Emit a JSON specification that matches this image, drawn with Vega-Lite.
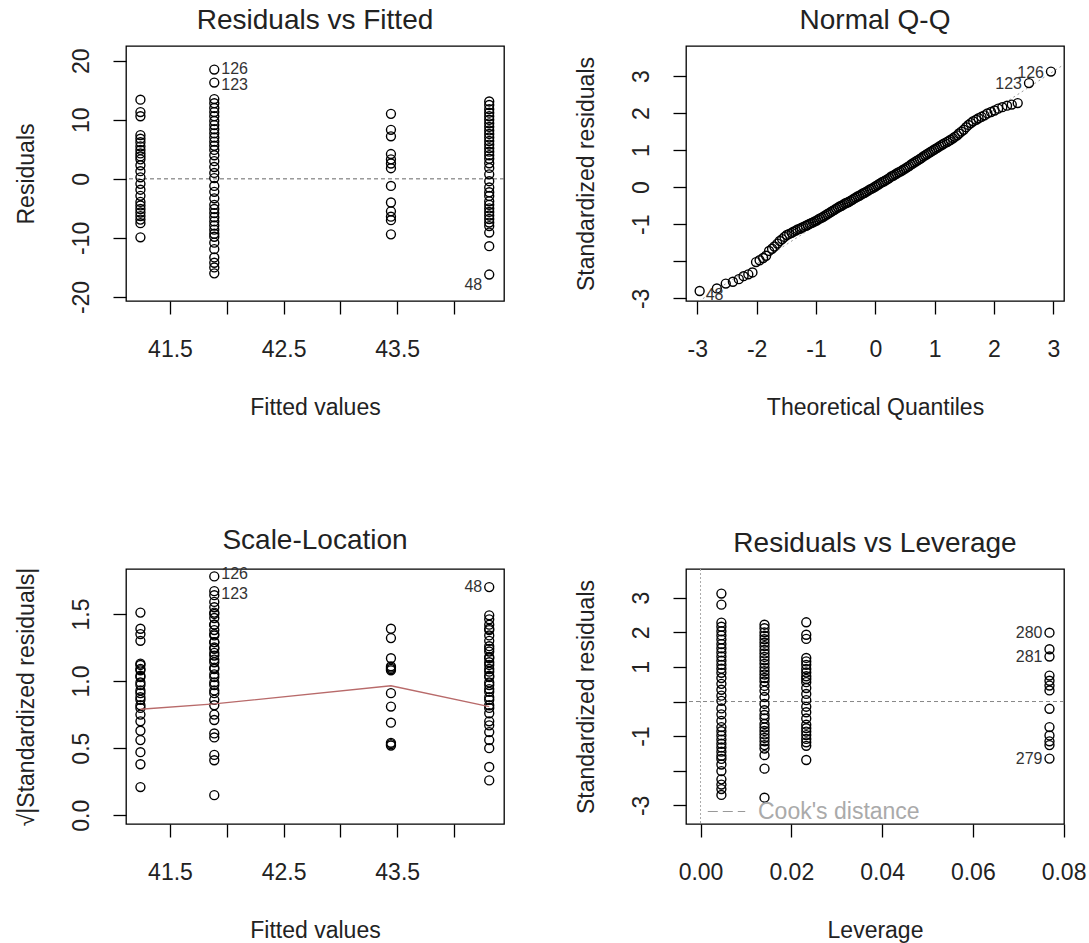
{
  "$schema": "https://vega.github.io/schema/vega-lite/v6.json",
  "background": "white",
  "autosize": {"type": "none"},
  "padding": {"left": 126, "top": 46, "right": 963, "bottom": 897},
  "bounds": "flush",
  "columns": 2,
  "spacing": {"row": 268, "column": 182},
  "resolve": {"legend": {"strokeDash": "independent"}},
  "config": {
    "font": "Liberation Sans",
    "view": {"stroke": "#000", "strokeWidth": 1.3},
    "axis": {"domain": false, "grid": false, "ticks": true, "tickColor": "#000", "tickWidth": 1.3, "tickSize": 13,
      "labelFontSize": 23, "labelColor": "#222", "titleFontSize": 23, "titleFontWeight": "normal", "titleColor": "#222",
      "labelOverlap": false, "labelFlush": false, "labelBound": false},
    "axisX": {"labelPadding": 24, "labelBaseline": "top", "labelAngle": 0, "titleBaseline": "alphabetic", "titleY": 113},
    "axisY": {"labelAngle": -90, "labelAlign": "center", "labelBaseline": "bottom", "labelPadding": 20, "titleX": -100, "titleBaseline": "middle", "titleAngle": -90},
    "title": {"fontSize": 28, "fontWeight": "normal", "color": "#222", "baseline": "alphabetic", "offset": 11, "anchor": "middle"},
    "legend": {"title": null}
  },
  "datasets": {
    "obs": [
      {"g":"A","fit":41.24,"lev":0.0233,"r":13.4,"sd":2.29,"sr":1.51},
      {"g":"A","fit":41.24,"lev":0.0233,"r":11.3,"sd":1.93,"sr":1.39},
      {"g":"A","fit":41.24,"lev":0.0233,"r":10.6,"sd":1.81,"sr":1.35},
      {"g":"A","fit":41.24,"lev":0.0233,"r":7.4,"sd":1.26,"sr":1.12},
      {"g":"A","fit":41.24,"lev":0.0233,"r":6.8,"sd":1.16,"sr":1.08},
      {"g":"A","fit":41.24,"lev":0.0233,"r":6.2,"sd":1.06,"sr":1.03},
      {"g":"A","fit":41.24,"lev":0.0233,"r":5.5,"sd":0.94,"sr":0.97},
      {"g":"A","fit":41.24,"lev":0.0233,"r":4.9,"sd":0.84,"sr":0.91},
      {"g":"A","fit":41.24,"lev":0.0233,"r":4.3,"sd":0.73,"sr":0.86},
      {"g":"A","fit":41.24,"lev":0.0233,"r":3.8,"sd":0.65,"sr":0.80},
      {"g":"A","fit":41.24,"lev":0.0233,"r":3.3,"sd":0.56,"sr":0.75},
      {"g":"A","fit":41.24,"lev":0.0233,"r":2.3,"sd":0.39,"sr":0.63},
      {"g":"A","fit":41.24,"lev":0.0233,"r":1.3,"sd":0.22,"sr":0.47},
      {"g":"A","fit":41.24,"lev":0.0233,"r":0.26,"sd":0.04,"sr":0.21},
      {"g":"A","fit":41.24,"lev":0.0233,"r":-0.85,"sd":-0.15,"sr":0.38},
      {"g":"A","fit":41.24,"lev":0.0233,"r":-1.84,"sd":-0.31,"sr":0.56},
      {"g":"A","fit":41.24,"lev":0.0233,"r":-2.87,"sd":-0.49,"sr":0.70},
      {"g":"A","fit":41.24,"lev":0.0233,"r":-3.9,"sd":-0.67,"sr":0.82},
      {"g":"A","fit":41.24,"lev":0.0233,"r":-4.5,"sd":-0.77,"sr":0.88},
      {"g":"A","fit":41.24,"lev":0.0233,"r":-5.1,"sd":-0.87,"sr":0.93},
      {"g":"A","fit":41.24,"lev":0.0233,"r":-5.7,"sd":-0.97,"sr":0.99},
      {"g":"A","fit":41.24,"lev":0.0233,"r":-6.3,"sd":-1.08,"sr":1.04},
      {"g":"A","fit":41.24,"lev":0.0233,"r":-6.9,"sd":-1.18,"sr":1.09},
      {"g":"A","fit":41.24,"lev":0.0233,"r":-7.5,"sd":-1.28,"sr":1.13},
      {"g":"A","fit":41.24,"lev":0.0233,"r":-9.9,"sd":-1.69,"sr":1.30},
      {"g":"B","fit":41.89,"lev":0.0046,"r":18.5,"sd":3.12,"sr":1.78,"lab":"126"},
      {"g":"B","fit":41.89,"lev":0.0046,"r":16.3,"sd":2.80,"sr":1.67,"lab":"123"},
      {"g":"B","fit":41.89,"lev":0.0046,"r":13.5,"sd":2.28,"sr":1.51},
      {"g":"B","fit":41.89,"lev":0.0046,"r":12.8,"sd":2.16,"sr":1.47},
      {"g":"B","fit":41.89,"lev":0.0046,"r":12.0,"sd":2.03,"sr":1.42},
      {"g":"B","fit":41.89,"lev":0.0046,"r":11.3,"sd":1.91,"sr":1.38},
      {"g":"B","fit":41.89,"lev":0.0046,"r":10.6,"sd":1.79,"sr":1.34},
      {"g":"B","fit":41.89,"lev":0.0046,"r":9.8,"sd":1.66,"sr":1.29},
      {"g":"B","fit":41.89,"lev":0.0046,"r":9.1,"sd":1.54,"sr":1.24},
      {"g":"B","fit":41.89,"lev":0.0046,"r":8.4,"sd":1.42,"sr":1.19},
      {"g":"B","fit":41.89,"lev":0.0046,"r":7.7,"sd":1.30,"sr":1.14},
      {"g":"B","fit":41.89,"lev":0.0046,"r":7.0,"sd":1.18,"sr":1.09},
      {"g":"B","fit":41.89,"lev":0.0046,"r":6.3,"sd":1.06,"sr":1.03},
      {"g":"B","fit":41.89,"lev":0.0046,"r":5.6,"sd":0.95,"sr":0.97},
      {"g":"B","fit":41.89,"lev":0.0046,"r":4.9,"sd":0.83,"sr":0.91},
      {"g":"B","fit":41.89,"lev":0.0046,"r":4.0,"sd":0.68,"sr":0.82},
      {"g":"B","fit":41.89,"lev":0.0046,"r":3.0,"sd":0.51,"sr":0.71},
      {"g":"B","fit":41.89,"lev":0.0046,"r":2.0,"sd":0.34,"sr":0.58},
      {"g":"B","fit":41.89,"lev":0.0046,"r":1.0,"sd":0.17,"sr":0.41},
      {"g":"B","fit":41.89,"lev":0.0046,"r":0.13,"sd":0.02,"sr":0.15},
      {"g":"B","fit":41.89,"lev":0.0046,"r":-1.2,"sd":-0.20,"sr":0.45},
      {"g":"B","fit":41.89,"lev":0.0046,"r":-2.2,"sd":-0.37,"sr":0.61},
      {"g":"B","fit":41.89,"lev":0.0046,"r":-3.3,"sd":-0.56,"sr":0.75},
      {"g":"B","fit":41.89,"lev":0.0046,"r":-4.4,"sd":-0.74,"sr":0.86},
      {"g":"B","fit":41.89,"lev":0.0046,"r":-5.1,"sd":-0.86,"sr":0.93},
      {"g":"B","fit":41.89,"lev":0.0046,"r":-5.8,"sd":-0.98,"sr":0.99},
      {"g":"B","fit":41.89,"lev":0.0046,"r":-6.5,"sd":-1.10,"sr":1.05},
      {"g":"B","fit":41.89,"lev":0.0046,"r":-7.2,"sd":-1.22,"sr":1.10},
      {"g":"B","fit":41.89,"lev":0.0046,"r":-7.9,"sd":-1.33,"sr":1.16},
      {"g":"B","fit":41.89,"lev":0.0046,"r":-8.6,"sd":-1.45,"sr":1.21},
      {"g":"B","fit":41.89,"lev":0.0046,"r":-9.3,"sd":-1.57,"sr":1.25},
      {"g":"B","fit":41.89,"lev":0.0046,"r":-9.8,"sd":-1.66,"sr":1.29},
      {"g":"B","fit":41.89,"lev":0.0046,"r":-10.8,"sd":-1.82,"sr":1.35},
      {"g":"B","fit":41.89,"lev":0.0046,"r":-11.9,"sd":-2.01,"sr":1.42},
      {"g":"B","fit":41.89,"lev":0.0046,"r":-13.3,"sd":-2.25,"sr":1.50},
      {"g":"B","fit":41.89,"lev":0.0046,"r":-14.2,"sd":-2.40,"sr":1.55},
      {"g":"B","fit":41.89,"lev":0.0046,"r":-15.0,"sd":-2.53,"sr":1.59},
      {"g":"B","fit":41.89,"lev":0.0046,"r":-16.0,"sd":-2.70,"sr":1.64},
      {"g":"C","fit":43.445,"lev":0.0769,"r":11.0,"sd":1.99,"sr":1.39,"lab":"280"},
      {"g":"C","fit":43.445,"lev":0.0769,"r":8.3,"sd":1.51,"sr":1.17},
      {"g":"C","fit":43.445,"lev":0.0769,"r":7.2,"sd":1.30,"sr":1.11,"lab":"281"},
      {"g":"C","fit":43.445,"lev":0.0769,"r":4.2,"sd":0.75,"sr":0.81},
      {"g":"C","fit":43.445,"lev":0.0769,"r":3.3,"sd":0.60,"sr":0.69},
      {"g":"C","fit":43.445,"lev":0.0769,"r":2.6,"sd":0.46,"sr":0.54},
      {"g":"C","fit":43.445,"lev":0.0769,"r":1.8,"sd":0.32,"sr":0.53},
      {"g":"C","fit":43.445,"lev":0.0769,"r":-1.2,"sd":-0.21,"sr":0.52},
      {"g":"C","fit":43.445,"lev":0.0769,"r":-4.0,"sd":-0.74,"sr":0.91},
      {"g":"C","fit":43.445,"lev":0.0769,"r":-5.5,"sd":-0.98,"sr":1.09},
      {"g":"C","fit":43.445,"lev":0.0769,"r":-6.4,"sd":-1.15,"sr":1.10},
      {"g":"C","fit":43.445,"lev":0.0769,"r":-7.0,"sd":-1.26,"sr":1.08},
      {"g":"C","fit":43.445,"lev":0.0769,"r":-9.4,"sd":-1.65,"sr":1.32,"lab":"279"},
      {"g":"D","fit":44.31,"lev":0.0141,"r":13.1,"sd":2.22,"sr":1.49},
      {"g":"D","fit":44.31,"lev":0.0141,"r":12.5,"sd":2.12,"sr":1.46},
      {"g":"D","fit":44.31,"lev":0.0141,"r":11.8,"sd":2.00,"sr":1.42},
      {"g":"D","fit":44.31,"lev":0.0141,"r":11.2,"sd":1.90,"sr":1.38},
      {"g":"D","fit":44.31,"lev":0.0141,"r":10.6,"sd":1.80,"sr":1.34},
      {"g":"D","fit":44.31,"lev":0.0141,"r":10.0,"sd":1.70,"sr":1.30},
      {"g":"D","fit":44.31,"lev":0.0141,"r":9.4,"sd":1.60,"sr":1.26},
      {"g":"D","fit":44.31,"lev":0.0141,"r":8.8,"sd":1.49,"sr":1.22},
      {"g":"D","fit":44.31,"lev":0.0141,"r":8.2,"sd":1.39,"sr":1.18},
      {"g":"D","fit":44.31,"lev":0.0141,"r":7.6,"sd":1.29,"sr":1.14},
      {"g":"D","fit":44.31,"lev":0.0141,"r":7.0,"sd":1.19,"sr":1.09},
      {"g":"D","fit":44.31,"lev":0.0141,"r":6.4,"sd":1.09,"sr":1.04},
      {"g":"D","fit":44.31,"lev":0.0141,"r":5.8,"sd":0.98,"sr":0.99},
      {"g":"D","fit":44.31,"lev":0.0141,"r":5.2,"sd":0.88,"sr":0.94},
      {"g":"D","fit":44.31,"lev":0.0141,"r":4.6,"sd":0.78,"sr":0.88},
      {"g":"D","fit":44.31,"lev":0.0141,"r":4.0,"sd":0.68,"sr":0.82},
      {"g":"D","fit":44.31,"lev":0.0141,"r":3.4,"sd":0.58,"sr":0.76},
      {"g":"D","fit":44.31,"lev":0.0141,"r":2.64,"sd":0.45,"sr":0.67},
      {"g":"D","fit":44.31,"lev":0.0141,"r":1.85,"sd":0.31,"sr":0.56},
      {"g":"D","fit":44.31,"lev":0.0141,"r":0.76,"sd":0.13,"sr":0.36},
      {"g":"D","fit":44.31,"lev":0.0141,"r":-0.4,"sd":-0.07,"sr":0.26},
      {"g":"D","fit":44.31,"lev":0.0141,"r":-1.47,"sd":-0.25,"sr":0.50},
      {"g":"D","fit":44.31,"lev":0.0141,"r":-2.27,"sd":-0.39,"sr":0.62},
      {"g":"D","fit":44.31,"lev":0.0141,"r":-2.9,"sd":-0.49,"sr":0.70},
      {"g":"D","fit":44.31,"lev":0.0141,"r":-3.8,"sd":-0.65,"sr":0.80},
      {"g":"D","fit":44.31,"lev":0.0141,"r":-4.4,"sd":-0.75,"sr":0.86},
      {"g":"D","fit":44.31,"lev":0.0141,"r":-5.0,"sd":-0.85,"sr":0.92},
      {"g":"D","fit":44.31,"lev":0.0141,"r":-5.6,"sd":-0.95,"sr":0.97},
      {"g":"D","fit":44.31,"lev":0.0141,"r":-6.2,"sd":-1.05,"sr":1.03},
      {"g":"D","fit":44.31,"lev":0.0141,"r":-6.8,"sd":-1.15,"sr":1.07},
      {"g":"D","fit":44.31,"lev":0.0141,"r":-7.4,"sd":-1.26,"sr":1.12},
      {"g":"D","fit":44.31,"lev":0.0141,"r":-8.0,"sd":-1.36,"sr":1.17},
      {"g":"D","fit":44.31,"lev":0.0141,"r":-9.1,"sd":-1.55,"sr":1.24},
      {"g":"D","fit":44.31,"lev":0.0141,"r":-11.4,"sd":-1.94,"sr":1.39},
      {"g":"D","fit":44.31,"lev":0.0141,"r":-16.2,"sd":-2.78,"sr":1.70,"lab":"48"}
    ],
    "qq": [
      {"q":-2.96,"s":-2.80,"lab":"48"},{"q":-2.67,"s":-2.73},{"q":-2.52,"s":-2.60},{"q":-2.40,"s":-2.55},
      {"q":-2.30,"s":-2.48},{"q":-2.22,"s":-2.40},{"q":-2.14,"s":-2.35},{"q":-2.07,"s":-2.30},
      {"q":-2.01,"s":-2.02},{"q":-1.95,"s":-1.97},{"q":-1.89,"s":-1.91},{"q":-1.84,"s":-1.85},
      {"q":-1.79,"s":-1.72},{"q":-1.74,"s":-1.66},{"q":-1.70,"s":-1.60},{"q":-1.65,"s":-1.52},
      {"q":-1.61,"s":-1.45},{"q":-1.57,"s":-1.40},{"q":-1.53,"s":-1.34},{"q":-1.49,"s":-1.29},
      {"q":-1.45,"s":-1.26},{"q":-1.41,"s":-1.23},{"q":-1.38,"s":-1.20},{"q":-1.34,"s":-1.17},
      {"q":-1.31,"s":-1.14},{"q":-1.27,"s":-1.12},{"q":-1.24,"s":-1.09},{"q":-1.21,"s":-1.07},
      {"q":-1.17,"s":-1.04},{"q":-1.14,"s":-1.02},{"q":-1.11,"s":-0.99},{"q":-1.08,"s":-0.97},
      {"q":-1.05,"s":-0.95},{"q":-1.02,"s":-0.92},{"q":-0.99,"s":-0.90},{"q":-0.96,"s":-0.87},
      {"q":-0.93,"s":-0.84},{"q":-0.90,"s":-0.82},{"q":-0.87,"s":-0.79},{"q":-0.84,"s":-0.76},
      {"q":-0.81,"s":-0.73},{"q":-0.78,"s":-0.70},{"q":-0.75,"s":-0.67},{"q":-0.72,"s":-0.64},
      {"q":-0.69,"s":-0.61},{"q":-0.66,"s":-0.58},{"q":-0.63,"s":-0.55},{"q":-0.60,"s":-0.52},
      {"q":-0.57,"s":-0.50},{"q":-0.54,"s":-0.47},{"q":-0.51,"s":-0.44},{"q":-0.48,"s":-0.42},
      {"q":-0.45,"s":-0.40},{"q":-0.42,"s":-0.37},{"q":-0.39,"s":-0.34},{"q":-0.36,"s":-0.31},
      {"q":-0.33,"s":-0.28},{"q":-0.30,"s":-0.25},{"q":-0.27,"s":-0.23},{"q":-0.24,"s":-0.20},
      {"q":-0.21,"s":-0.17},{"q":-0.18,"s":-0.15},{"q":-0.15,"s":-0.12},{"q":-0.12,"s":-0.09},
      {"q":-0.09,"s":-0.06},{"q":-0.06,"s":-0.04},{"q":-0.03,"s":-0.01},{"q":0.0,"s":0.02},
      {"q":0.03,"s":0.05},{"q":0.06,"s":0.08},{"q":0.09,"s":0.11},{"q":0.12,"s":0.14},
      {"q":0.15,"s":0.16},{"q":0.18,"s":0.19},{"q":0.21,"s":0.22},{"q":0.24,"s":0.25},
      {"q":0.27,"s":0.29},{"q":0.30,"s":0.31},{"q":0.33,"s":0.34},{"q":0.36,"s":0.37},
      {"q":0.39,"s":0.40},{"q":0.42,"s":0.42},{"q":0.45,"s":0.45},{"q":0.48,"s":0.48},
      {"q":0.51,"s":0.51},{"q":0.54,"s":0.54},{"q":0.57,"s":0.57},{"q":0.60,"s":0.61},
      {"q":0.63,"s":0.64},{"q":0.66,"s":0.67},{"q":0.69,"s":0.70},{"q":0.72,"s":0.73},
      {"q":0.75,"s":0.76},{"q":0.78,"s":0.79},{"q":0.81,"s":0.83},{"q":0.84,"s":0.86},
      {"q":0.87,"s":0.89},{"q":0.90,"s":0.92},{"q":0.93,"s":0.95},{"q":0.96,"s":0.98},
      {"q":0.99,"s":1.01},{"q":1.02,"s":1.04},{"q":1.05,"s":1.07},{"q":1.08,"s":1.10},
      {"q":1.11,"s":1.13},{"q":1.14,"s":1.16},{"q":1.17,"s":1.19},{"q":1.21,"s":1.22},
      {"q":1.24,"s":1.25},{"q":1.27,"s":1.28},{"q":1.31,"s":1.32},{"q":1.34,"s":1.36},
      {"q":1.38,"s":1.40},{"q":1.41,"s":1.45},{"q":1.45,"s":1.50},{"q":1.49,"s":1.55},
      {"q":1.53,"s":1.62},{"q":1.57,"s":1.68},{"q":1.61,"s":1.73},{"q":1.65,"s":1.78},
      {"q":1.70,"s":1.82},{"q":1.74,"s":1.86},{"q":1.79,"s":1.90},{"q":1.84,"s":1.94},
      {"q":1.89,"s":1.99},{"q":1.95,"s":2.03},{"q":2.01,"s":2.07},{"q":2.07,"s":2.12},
      {"q":2.14,"s":2.16},{"q":2.22,"s":2.20},{"q":2.30,"s":2.23},{"q":2.40,"s":2.27},
      {"q":2.59,"s":2.81,"lab":"123"},{"q":2.96,"s":3.12,"lab":"126"}
    ],
    "qqline": [{"q":-3.4,"s":-3.52},{"q":3.4,"s":3.54}],
    "smooth": [{"fit":41.24,"v":0.79},{"fit":41.89,"v":0.83},{"fit":43.445,"v":0.965},{"fit":44.31,"v":0.81}],
    "cook": [
      {"h":0.02,"c":9.9,"b":"up","kind":"Cook's distance"},{"h":0.04,"c":6.93,"b":"up","kind":"Cook's distance"},
      {"h":0.06,"c":5.6,"b":"up","kind":"Cook's distance"},{"h":0.08,"c":4.8,"b":"up","kind":"Cook's distance"},
      {"h":0.02,"c":-9.9,"b":"lo","kind":"Cook's distance"},{"h":0.04,"c":-6.93,"b":"lo","kind":"Cook's distance"},
      {"h":0.06,"c":-5.6,"b":"lo","kind":"Cook's distance"},{"h":0.08,"c":-4.8,"b":"lo","kind":"Cook's distance"}
    ]
  },
  "concat": [
    {
      "width": 378, "height": 255,
      "title": {"text": "Residuals vs Fitted"},
      "data": {"name": "obs"},
      "layer": [
        {"data": {"values": [{}]}, "mark": {"type": "rule", "color": "#666", "strokeDash": [4, 3], "strokeWidth": 1},
         "encoding": {"y": {"datum": 0, "type": "quantitative"}}},
        {"mark": {"type": "point", "shape": "circle", "filled": false, "stroke": "#000", "strokeWidth": 1.4, "size": 80, "opacity": 1},
         "encoding": {
           "x": {"field": "fit", "type": "quantitative", "scale": {"domain": [41.113, 44.44], "nice": false, "zero": false},
                 "axis": {"title": "Fitted values", "values": [41.5, 42, 42.5, 43, 43.5, 44], "labelExpr": "datum.value == 41.5 || datum.value == 42.5 || datum.value == 43.5 ? datum.label : ''"}},
           "y": {"field": "r", "type": "quantitative", "scale": {"domain": [-20.68, 22.49], "nice": false, "zero": false},
                 "axis": {"title": "Residuals", "values": [-20, -10, 0, 10, 20], "labelExpr": "replace(datum.label, '\u2212', '-')"}}
         }},
        {"transform": [{"filter": "datum.lab == '126'"}],
         "mark": {"type": "text", "align": "left", "baseline": "middle", "dx": 7, "dy": -1, "fontSize": 16, "color": "#333"},
         "encoding": {"x": {"field": "fit", "type": "quantitative"}, "y": {"field": "r", "type": "quantitative"}, "text": {"field": "lab"}}},
        {"transform": [{"filter": "datum.lab == '123'"}],
         "mark": {"type": "text", "align": "left", "baseline": "middle", "dx": 7, "dy": 2, "fontSize": 16, "color": "#333"},
         "encoding": {"x": {"field": "fit", "type": "quantitative"}, "y": {"field": "r", "type": "quantitative"}, "text": {"field": "lab"}}},
        {"transform": [{"filter": "isValid(datum.lab) && datum.g == 'D'"}],
         "mark": {"type": "text", "align": "right", "baseline": "middle", "dx": -7, "dy": 10, "fontSize": 16, "color": "#333"},
         "encoding": {"x": {"field": "fit", "type": "quantitative"}, "y": {"field": "r", "type": "quantitative"}, "text": {"field": "lab"}}}
      ]
    },
    {
      "width": 378, "height": 255,
      "title": {"text": "Normal Q-Q"},
      "layer": [
        {"data": {"name": "qqline"}, "mark": {"type": "line", "color": "#999", "strokeDash": [2, 3], "strokeWidth": 1, "clip": true},
         "encoding": {"x": {"field": "q", "type": "quantitative"}, "y": {"field": "s", "type": "quantitative"}}},
        {"data": {"name": "qq"},
         "mark": {"type": "point", "shape": "circle", "filled": false, "stroke": "#000", "strokeWidth": 1.4, "size": 80, "opacity": 1},
         "encoding": {
           "x": {"field": "q", "type": "quantitative", "scale": {"domain": [-3.19, 3.18], "nice": false, "zero": false},
                 "axis": {"title": "Theoretical Quantiles", "values": [-3, -2, -1, 0, 1, 2, 3], "format": "d", "labelExpr": "replace(datum.label, '\u2212', '-')"}},
           "y": {"field": "s", "type": "quantitative", "scale": {"domain": [-3.07, 3.81], "nice": false, "zero": false},
                 "axis": {"title": "Standardized residuals", "values": [-3, -2, -1, 0, 1, 2, 3], "format": "d", "labelExpr": "datum.value == -2 ? '' : replace(datum.label, '\u2212', '-')"}}
         }},
        {"data": {"name": "qq"}, "transform": [{"filter": "isValid(datum.lab) && datum.q > 0"}],
         "mark": {"type": "text", "align": "right", "baseline": "middle", "dx": -7, "dy": 1, "fontSize": 16, "color": "#333"},
         "encoding": {"x": {"field": "q", "type": "quantitative"}, "y": {"field": "s", "type": "quantitative"}, "text": {"field": "lab"}}},
        {"data": {"name": "qq"}, "transform": [{"filter": "isValid(datum.lab) && datum.q < 0"}],
         "mark": {"type": "text", "align": "left", "baseline": "middle", "dx": 6, "dy": 4, "fontSize": 16, "color": "#333"},
         "encoding": {"x": {"field": "q", "type": "quantitative"}, "y": {"field": "s", "type": "quantitative"}, "text": {"field": "lab"}}}
      ]
    },
    {
      "width": 378, "height": 255,
      "title": {"text": "Scale-Location"},
      "layer": [
        {"data": {"name": "obs"},
         "mark": {"type": "point", "shape": "circle", "filled": false, "stroke": "#000", "strokeWidth": 1.4, "size": 80, "opacity": 1},
         "encoding": {
           "x": {"field": "fit", "type": "quantitative", "scale": {"domain": [41.113, 44.44], "nice": false, "zero": false},
                 "axis": {"title": "Fitted values", "values": [41.5, 42, 42.5, 43, 43.5, 44], "labelExpr": "datum.value == 41.5 || datum.value == 42.5 || datum.value == 43.5 ? datum.label : ''"}},
           "y": {"field": "sr", "type": "quantitative", "scale": {"domain": [-0.065, 1.835], "nice": false, "zero": false},
                 "axis": {"title": "√|Standardized residuals|", "values": [0, 0.5, 1, 1.5], "format": ".1f"}}
         }},
        {"data": {"name": "smooth"}, "mark": {"type": "line", "color": "#b86a6a", "strokeWidth": 1.3},
         "encoding": {"x": {"field": "fit", "type": "quantitative"}, "y": {"field": "v", "type": "quantitative"}}},
        {"data": {"name": "obs"}, "transform": [{"filter": "datum.lab == '126'"}],
         "mark": {"type": "text", "align": "left", "baseline": "middle", "dx": 7, "dy": -2, "fontSize": 16, "color": "#333"},
         "encoding": {"x": {"field": "fit", "type": "quantitative"}, "y": {"field": "sr", "type": "quantitative"}, "text": {"field": "lab"}}},
        {"data": {"name": "obs"}, "transform": [{"filter": "datum.lab == '123'"}],
         "mark": {"type": "text", "align": "left", "baseline": "middle", "dx": 7, "dy": 3, "fontSize": 16, "color": "#333"},
         "encoding": {"x": {"field": "fit", "type": "quantitative"}, "y": {"field": "sr", "type": "quantitative"}, "text": {"field": "lab"}}},
        {"data": {"name": "obs"}, "transform": [{"filter": "isValid(datum.lab) && datum.g == 'D'"}],
         "mark": {"type": "text", "align": "right", "baseline": "middle", "dx": -7, "fontSize": 16, "color": "#333"},
         "encoding": {"x": {"field": "fit", "type": "quantitative"}, "y": {"field": "sr", "type": "quantitative"}, "text": {"field": "lab"}}}
      ]
    },
    {
      "width": 378, "height": 255,
      "title": {"text": "Residuals vs Leverage"},
      "layer": [
        {"data": {"values": [{}]}, "mark": {"type": "rule", "color": "#888", "strokeDash": [4, 3], "strokeWidth": 1},
         "encoding": {"y": {"datum": 0, "type": "quantitative"}}},
        {"data": {"values": [{}]}, "mark": {"type": "rule", "color": "#aaa", "strokeDash": [2, 2], "strokeWidth": 1},
         "encoding": {"x": {"datum": 0, "type": "quantitative"}}},
        {"data": {"name": "cook"}, "mark": {"type": "line", "color": "#999", "strokeWidth": 1, "clip": true},
         "encoding": {
           "x": {"field": "h", "type": "quantitative"},
           "y": {"field": "c", "type": "quantitative"},
           "detail": {"field": "b"},
           "strokeDash": {"field": "kind", "type": "nominal", "scale": {"domain": ["Cook's distance"], "range": [[10, 5]]},
             "legend": {"title": null, "orient": "bottom-left", "offset": 0, "padding": 0, "symbolType": "stroke", "symbolSize": 1400,
               "symbolStrokeColor": "#999", "symbolStrokeWidth": 1.2, "symbolDash": [10, 5], "symbolOffset": 21,
               "labelFontSize": 23, "labelColor": "#aaa", "labelOffset": 12, "labelLimit": 400}}
         }},
        {"data": {"name": "obs"},
         "mark": {"type": "point", "shape": "circle", "filled": false, "stroke": "#000", "strokeWidth": 1.4, "size": 80, "opacity": 1},
         "encoding": {
           "x": {"field": "lev", "type": "quantitative", "scale": {"domain": [-0.0032, 0.0801], "nice": false, "zero": false},
                 "axis": {"title": "Leverage", "values": [0, 0.02, 0.04, 0.06, 0.08], "format": ".2f"}},
           "y": {"field": "sd", "type": "quantitative", "scale": {"domain": [-3.54, 3.83], "nice": false, "zero": false},
                 "axis": {"title": "Standardized residuals", "values": [-3, -2, -1, 0, 1, 2, 3], "format": "d", "labelExpr": "datum.value == 0 || datum.value == -2 ? '' : replace(datum.label, '\u2212', '-')"}}
         }},
        {"data": {"name": "obs"}, "transform": [{"filter": "isValid(datum.lab) && datum.g == 'C'"}],
         "mark": {"type": "text", "align": "right", "baseline": "middle", "dx": -7, "fontSize": 16, "color": "#333"},
         "encoding": {"x": {"field": "lev", "type": "quantitative"}, "y": {"field": "sd", "type": "quantitative"}, "text": {"field": "lab"}}}
      ]
    }
  ]
}
